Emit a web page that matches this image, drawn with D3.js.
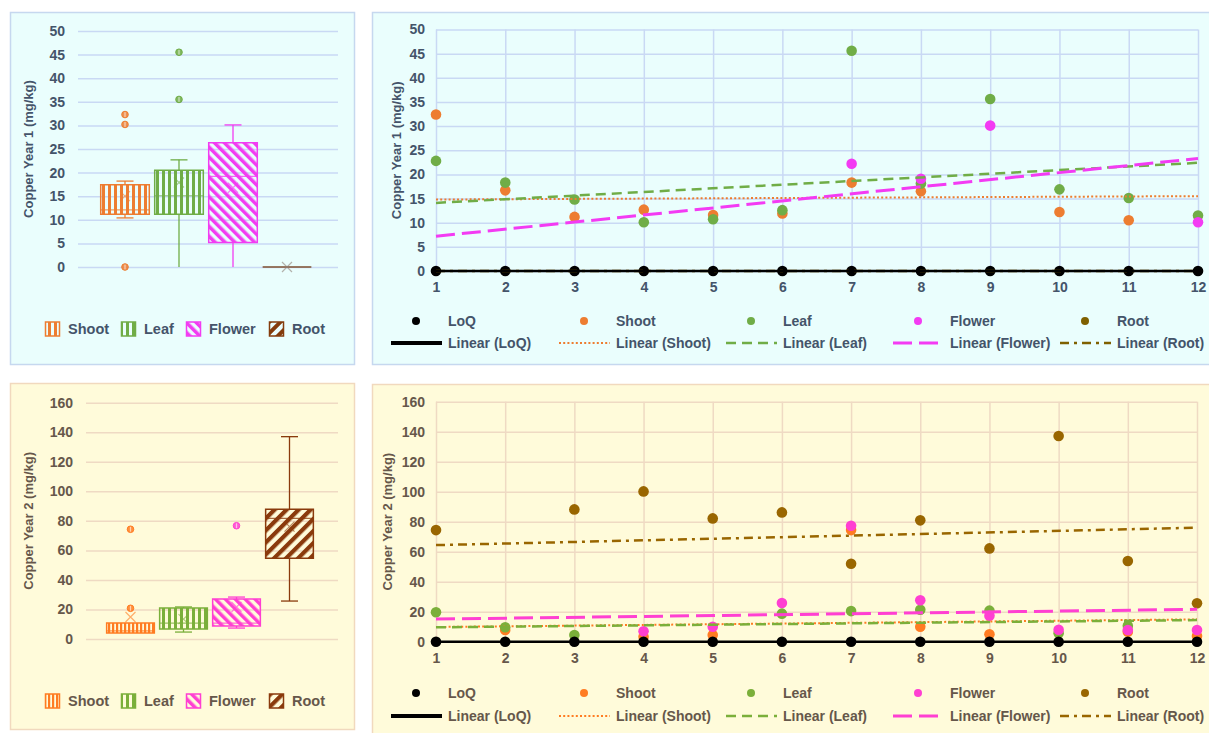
<!DOCTYPE html>
<html>
<head>
<meta charset="utf-8">
<title>Copper Year 1 / Year 2</title>
<script src="https://cdn.jsdelivr.net/npm/d3@7"></script>
<style>
  body { margin: 0; background: #fff; font-family: "Liberation Sans", Arial, sans-serif; }
  svg { display: block; }
</style>
</head>
<body>
<svg id="chart" width="1209" height="733"></svg>
<script>
// ---- data ----
const categories = ["Shoot", "Leaf", "Flower", "Root"];
const months = [1, 2, 3, 4, 5, 6, 7, 8, 9, 10, 11, 12];
const seriesNames = ["LoQ", "Shoot", "Leaf", "Flower", "Root"];

// Year 1 box & whisker statistics
const y1Low    = [10.4, 0, 0, 0];
const y1Q1     = [11.2, 11.2, 5.2, 0];
const y1Median = [12.1, 15.1, 19.2, 0];
const y1Q3     = [17.4, 20.5, 26.3, 0];
const y1High   = [18.2, 22.7, 30.1, 0];
const y1Mean   = [15.0, 17.9, 16.8, 0];
const y1Outliers = [[32.3, 30.2, 0], [45.5, 35.5], [], []];

// Year 2 box & whisker statistics
const y2Low    = [4.1, 4.7, 7.4, 25.7];
const y2Q1     = [4.1, 6.8, 8.8, 54.6];
const y2Median = [5.5, 10.8, 10.8, 81.7];
const y2Q3     = [10.8, 21.0, 27.1, 87.8];
const y2High   = [10.8, 21.7, 28.4, 137];
const y2Mean   = [14.9, 13.5, 21.7, 76.1];
const y2Outliers = [[20.8, 74.3], [], [76.7], []];

// Year 1 monthly values (null = not visible)
const loq1    = [0, 0, 0, 0, 0, 0, 0, 0, 0, 0, 0, 0];
const shoot1  = [32.4, 16.7, 11.2, 12.7, 11.6, 11.9, 18.3, 16.5, null, 12.2, 10.5, null];
const leaf1   = [22.8, 18.3, 14.8, 10.1, 10.7, 12.6, 45.6, 18.1, 35.6, 16.9, 15.1, 11.5];
const flower1 = [null, null, null, null, null, null, 22.2, 19.1, 30.1, null, null, 10.1];
const root1   = [null, null, null, null, null, null, null, null, null, null, null, null];

// Year 2 monthly values
const loq2    = [0, 0, 0, 0, 0, 0, 0, 0, 0, 0, 0, 0];
const shoot2  = [null, 7.8, null, 3.3, 4.4, null, 74.4, 10.0, 4.9, null, 6.7, 3.8];
const leaf2   = [19.6, 9.6, 4.4, null, null, 18.7, 20.4, 21.3, 20.7, 5.6, 10.7, null];
const flower2 = [null, null, null, 6.9, 10.0, 25.8, 77.3, 27.6, 17.3, 8.0, 7.8, 7.8];
const root2   = [74.4, null, 88.2, 100.2, 82.2, 86.2, 52.0, 80.9, 62.2, 137.1, 53.8, 25.6];

// linear trend lines: value at month 1 and month 12 (LoQ, Shoot, Leaf, Flower, Root)
const trend1Start = [0, 14.8, 14.1, 7.2, 0];
const trend1End   = [0, 15.5, 22.4, 23.3, 0];
const trend2Start = [0, 9.8, 9.6, 15.1, 64.4];
const trend2End   = [0, 14.9, 14.4, 21.6, 76.0];

const y1Ticks = [0, 5, 10, 15, 20, 25, 30, 35, 40, 45, 50];
const y2Ticks = [0, 20, 40, 60, 80, 100, 120, 140, 160];

// ---- styles ----
const themeTop = { bg: "#EAFEFD", border: "#C6D8EF", grid: "#C9D9F4", text: "#44546A" };
const themeBottom = { bg: "#FFFBDA", border: "#F1D9BE", grid: "#EFDAC3", text: "#66574A" };

const boxColors1 = ["#ED7D31", "#70AD47", "#F23CF2", "#843C0C"];
const boxColors2 = ["#FF7C22", "#7BAF3A", "#FF3FD2", "#8A3A0C"];
const dotColors1 = ["#000000", "#ED7D31", "#70AD47", "#F33BF3", "#7F6000"];
const dotColors2 = ["#000000", "#FF7C22", "#7BAF3A", "#FF3FD2", "#996600"];

const lineStyles = [
  { w: 2.5, dash: null },
  { w: 2, dash: "2,2.2" },
  { w: 2.5, dash: "10,6" },
  { w: 3, dash: "19,7" },
  { w: 2.5, dash: "9,5,3,5" }
];

const FONT = '"Liberation Sans", Arial, sans-serif';

const svg = d3.select("#chart");
const defs = svg.append("defs");

function addPattern(id, color, size, band, angle) {
  const p = defs.append("pattern")
    .attr("id", id)
    .attr("patternUnits", "userSpaceOnUse")
    .attr("width", size).attr("height", size);
  if (angle) p.attr("patternTransform", `rotate(${angle})`);
  p.append("rect").attr("width", band).attr("height", size).attr("fill", color);
}

function styleAxis(sel, theme) {
  sel.attr("font-family", FONT).attr("font-size", 14);
  sel.select(".domain").remove();
  sel.selectAll(".tick line").attr("stroke", theme.grid).attr("stroke-width", 1.5);
  sel.selectAll(".tick text")
    .attr("fill", theme.text)
    .attr("font-weight", "bold")
    .attr("font-size", 14);
}

function panel(rect, theme) {
  svg.append("rect")
    .attr("x", rect[0] + 0.5).attr("y", rect[1] + 0.5)
    .attr("width", rect[2]).attr("height", rect[3])
    .attr("fill", theme.bg).attr("stroke", theme.border).attr("stroke-width", 1.5);
}

function yTitle(text, x, yMid, theme) {
  svg.append("text")
    .attr("transform", `translate(${x},${yMid}) rotate(-90)`)
    .attr("text-anchor", "middle")
    .attr("dominant-baseline", "central")
    .attr("font-family", FONT)
    .attr("font-size", 13).attr("font-weight", "bold")
    .attr("fill", theme.text)
    .text(text);
}

// ---- box & whisker panel ----
function drawBoxPanel(o) {
  panel(o.rect, o.theme);
  const y = d3.scaleLinear().domain(o.yDomain).range(o.yRange);
  const x = d3.scaleBand().domain(categories).range(o.xBand).paddingInner(0.1).paddingOuter(0.05);

  const ax = svg.append("g")
    .attr("transform", `translate(${o.gridX[0]},0)`)
    .call(d3.axisLeft(y).tickValues(o.ticks).tickSize(-(o.gridX[1] - o.gridX[0])).tickPadding(13));
  styleAxis(ax, o.theme);

  yTitle(o.title, 28, (o.yRange[0] + o.yRange[1]) / 2, o.theme);

  categories.forEach((c, i) => {
    addPattern(o.id + i, o.colors[i], o.pat[i][0], o.pat[i][1], o.pat[i][2]);
  });

  const bw = x.bandwidth();
  const g = svg.append("g");
  categories.forEach((c, i) => {
    const col = o.colors[i];
    const cx = x(c) + bw / 2;
    const x0 = x(c), x1 = x(c) + bw;
    const flat = o.q3[i] === o.q1[i];
    // whiskers
    [[o.low[i], o.q1[i]], [o.high[i], o.q3[i]]].forEach(([w, edge]) => {
      if (w === edge) return;
      g.append("line").attr("x1", cx).attr("x2", cx).attr("y1", y(w)).attr("y2", y(edge))
        .attr("stroke", col).attr("stroke-width", 1.3);
      if (w !== 0) {
        g.append("line").attr("x1", cx - 8.5).attr("x2", cx + 8.5).attr("y1", y(w)).attr("y2", y(w))
          .attr("stroke", col).attr("stroke-width", 1.3);
      }
    });
    // box
    g.append("path")
      .attr("d", `M${x0},${y(o.q3[i])}H${x1}V${y(o.q1[i])}H${x0}Z`)
      .attr("fill", `url(#${o.id + i})`)
      .attr("stroke", flat ? "#8d7f76" : col)
      .attr("stroke-width", 1.5);
    // median
    g.append("line").attr("x1", x0).attr("x2", x1)
      .attr("y1", y(o.median[i])).attr("y2", y(o.median[i]))
      .attr("stroke", col).attr("stroke-width", 1.2).attr("opacity", 0.75);
    // mean marker
    const my = y(o.mean[i]);
    g.append("path")
      .attr("d", `M${cx - 5},${my - 5}L${cx + 5},${my + 5}M${cx - 5},${my + 5}L${cx + 5},${my - 5}`)
      .attr("stroke", flat ? "#8d7f76" : col).attr("stroke-width", 1.2).attr("opacity", 0.6).attr("fill", "none");
    // outliers
    o.outliers[i].forEach(v => {
      g.append("circle").attr("cx", cx).attr("cy", y(v)).attr("r", 3.3)
        .attr("fill", col).attr("fill-opacity", 0.85)
        .attr("stroke", col).attr("stroke-width", 1);
      g.append("rect").attr("x", cx - 0.6).attr("y", y(v) - 2.4).attr("width", 1.2).attr("height", 4.8)
        .attr("fill", "#fff").attr("opacity", 0.6);
    });
  });

  // legend
  const lx = [45, 121, 186, 269];
  const lg = svg.append("g");
  categories.forEach((c, i) => {
    lg.append("rect").attr("x", lx[i] + 0.5).attr("y", o.legendY - 7)
      .attr("width", 14).attr("height", 14)
      .attr("fill", `url(#${o.id + i})`).attr("stroke", o.colors[i]).attr("stroke-width", 1.5);
    lg.append("text").attr("x", lx[i] + 23).attr("y", o.legendY)
      .attr("dominant-baseline", "central")
      .attr("font-family", FONT)
      .attr("font-size", 14.5).attr("font-weight", "bold").attr("fill", o.theme.text)
      .text(c);
  });
}

// ---- scatter panel ----
function drawScatterPanel(o) {
  panel(o.rect, o.theme);
  const x = d3.scaleLinear().domain([1, 12]).range(o.xRange);
  const y = d3.scaleLinear().domain(o.yDomain).range(o.yRange);
  const h = o.yRange[0] - o.yRange[1];
  const w = o.xRange[1] - o.xRange[0];

  const ax = svg.append("g")
    .attr("transform", `translate(0,${o.yRange[0]})`)
    .call(d3.axisBottom(x).tickValues(months).tickSize(-h).tickPadding(11).tickFormat(d3.format("d")));
  styleAxis(ax, o.theme);
  const ay = svg.append("g")
    .attr("transform", `translate(${o.xRange[0]},0)`)
    .call(d3.axisLeft(y).tickValues(o.ticks).tickSize(-w).tickPadding(11));
  styleAxis(ay, o.theme);

  yTitle(o.title, o.titleX, (o.yRange[0] + o.yRange[1]) / 2, o.theme);

  // points: Shoot, Leaf, Flower, Root, then LoQ on top
  const order = [1, 2, 3, 4, 0];
  const pg = svg.append("g");
  order.forEach(s => {
    pg.selectAll(null)
      .data(o.values[s].map((v, i) => ({ m: months[i], v })).filter(d => d.v !== null))
      .join("circle")
      .attr("cx", d => x(d.m)).attr("cy", d => y(d.v)).attr("r", 5.3)
      .attr("fill", o.colors[s]);
  });

  // trend lines
  const line = d3.line().x(d => x(d[0])).y(d => y(d[1]));
  const tg = svg.append("g");
  order.forEach(s => {
    tg.append("path")
      .attr("d", line([[1, o.tStart[s]], [12, o.tEnd[s]]]))
      .attr("fill", "none")
      .attr("stroke", o.colors[s])
      .attr("stroke-width", lineStyles[s].w)
      .attr("stroke-dasharray", lineStyles[s].dash);
  });

  // legend
  const tx = [448, 616, 783, 950, 1117];
  const lg = svg.append("g").attr("font-family", FONT);
  seriesNames.forEach((n, s) => {
    lg.append("circle").attr("cx", tx[s] - 32).attr("cy", o.legendY[0]).attr("r", 4)
      .attr("fill", o.colors[s]);
    lg.append("text").attr("x", tx[s]).attr("y", o.legendY[0])
      .attr("dominant-baseline", "central")
      .attr("font-size", 14).attr("font-weight", "bold").attr("fill", o.theme.text)
      .text(n);
    lg.append("line")
      .attr("x1", tx[s] - 57).attr("x2", tx[s] - 6)
      .attr("y1", o.legendY[1]).attr("y2", o.legendY[1])
      .attr("stroke", o.colors[s])
      .attr("stroke-width", s === 0 ? 4 : lineStyles[s].w)
      .attr("stroke-dasharray", lineStyles[s].dash);
    lg.append("text").attr("x", tx[s]).attr("y", o.legendY[1])
      .attr("dominant-baseline", "central")
      .attr("font-size", 14).attr("font-weight", "bold").attr("fill", o.theme.text)
      .text(`Linear (${n})`);
  });
}

drawBoxPanel({
  id: "p1_", rect: [10, 12, 344, 352], theme: themeTop,
  yDomain: [0, 50], yRange: [267, 31], ticks: y1Ticks, gridX: [78, 338], xBand: [98, 314],
  title: "Copper Year 1 (mg/kg)", colors: boxColors1,
  pat: [[6, 3, 0], [6, 3, 0], [7, 3.5, -45], [8, 4, 45]],
  low: y1Low, q1: y1Q1, median: y1Median, q3: y1Q3, high: y1High, mean: y1Mean, outliers: y1Outliers,
  legendY: 329
});

drawBoxPanel({
  id: "p2_", rect: [10, 383, 344, 346], theme: themeBottom,
  yDomain: [0, 160], yRange: [639, 402.7], ticks: y2Ticks, gridX: [86, 338], xBand: [104, 316],
  title: "Copper Year 2 (mg/kg)", colors: boxColors2,
  pat: [[4, 2.2, 0], [6, 3, 0], [7, 3.5, -45], [8.5, 4.2, 45]],
  low: y2Low, q1: y2Q1, median: y2Median, q3: y2Q3, high: y2High, mean: y2Mean, outliers: y2Outliers,
  legendY: 701
});

drawScatterPanel({
  rect: [372, 12, 840, 352], theme: themeTop,
  xRange: [436, 1198], yDomain: [0, 50], yRange: [271, 29.5], ticks: y1Ticks,
  title: "Copper Year 1 (mg/kg)", titleX: 396,
  colors: dotColors1, values: [loq1, shoot1, leaf1, flower1, root1],
  tStart: trend1Start, tEnd: trend1End, legendY: [321, 343]
});

drawScatterPanel({
  rect: [372, 384, 840, 352], theme: themeBottom,
  xRange: [436, 1197], yDomain: [0, 160], yRange: [641.7, 401.7], ticks: y2Ticks,
  title: "Copper Year 2 (mg/kg)", titleX: 387,
  colors: dotColors2, values: [loq2, shoot2, leaf2, flower2, root2],
  tStart: trend2Start, tEnd: trend2End, legendY: [693, 716]
});
</script>
</body>
</html>
